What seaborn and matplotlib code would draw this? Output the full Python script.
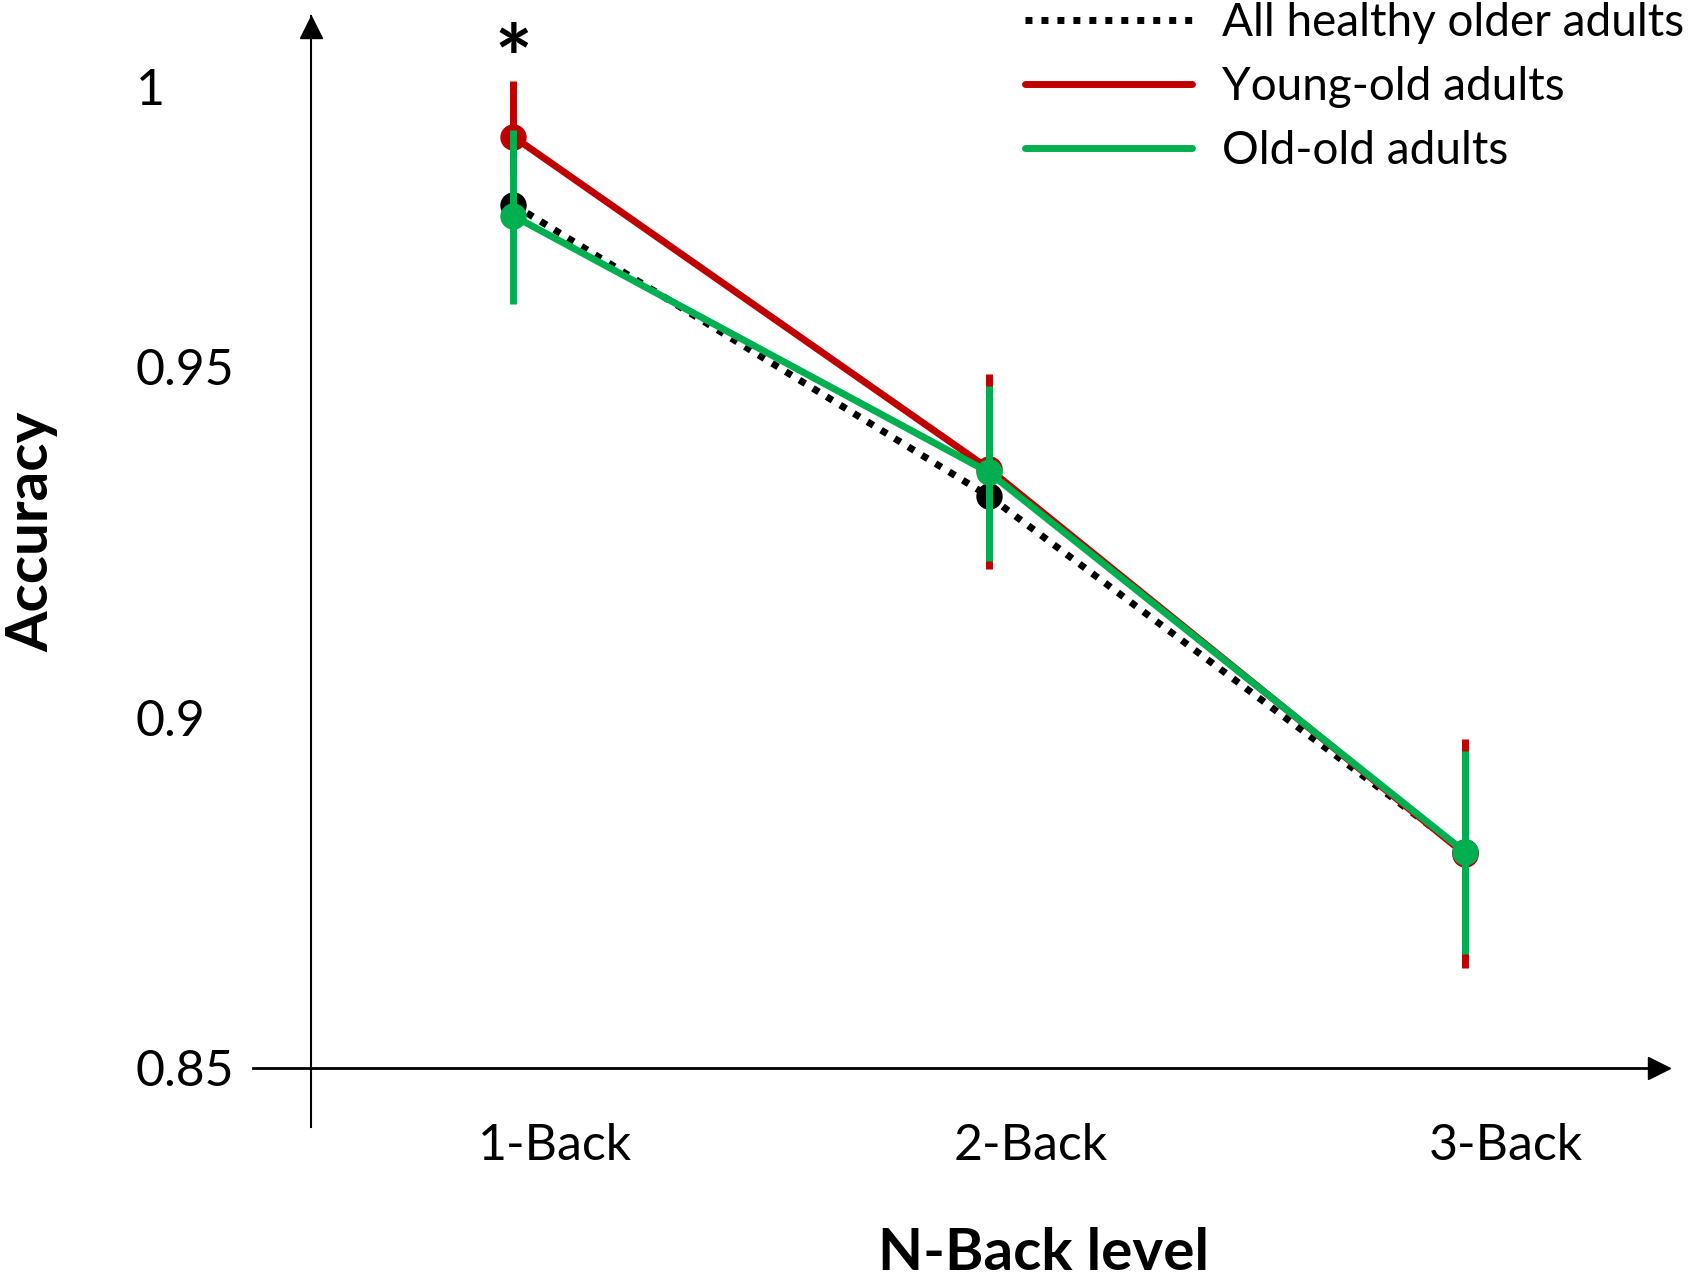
import numpy as np
import matplotlib
matplotlib.use("Agg")
import matplotlib.pyplot as plt
import matplotlib.transforms as mtransforms
from matplotlib.lines import Line2D
import seaborn as sns

# data
levels = ["1-Back", "2-Back", "3-Back"]

all_acc = [0.9731, 0.9315, 0.8808]

young_acc = [0.9828, 0.9354, 0.8805]
young_lo = [0.9772, 0.9212, 0.8642]
young_hi = [0.9908, 0.9489, 0.8969]

old_acc = [0.9715, 0.9349, 0.8808]
old_lo = [0.9589, 0.9223, 0.8662]
old_hi = [0.9838, 0.9472, 0.8951]

group_names = ["All healthy older adults", "Young-old adults", "Old-old adults"]
ytick_vals = [0.85, 0.9, 0.95, 0.99]
ytick_labels = ["0.85", "0.9", "0.95", "1"]

red = "#C00000"
green = "#00B050"
dots = (0, (1, 1.3))

sns.set_style("white")
plt.rcParams["font.family"] = ["Lato", "DejaVu Sans"]
for key in ["text.color", "axes.labelcolor", "xtick.color", "ytick.color"]:
    plt.rcParams[key] = "black"

fig = plt.figure(figsize=(16.91, 12.79), dpi=100)
ax = fig.add_axes([0.1499, 0.1189, 0.8355, 0.8685])

lw = 5
ms = 19
elw = 5
x = np.arange(len(levels))

sns.pointplot(x=levels, y=all_acc, color="black", linestyle=dots, linewidth=lw,
              markersize=ms, markeredgewidth=0, errorbar=None, ax=ax)

ax.errorbar(x, young_acc,
            yerr=[np.subtract(young_acc, young_lo), np.subtract(young_hi, young_acc)],
            fmt="none", ecolor=red, elinewidth=elw, capsize=0)
sns.pointplot(x=levels, y=young_acc, color=red, linewidth=lw,
              markersize=ms, markeredgewidth=0, errorbar=None, ax=ax)

ax.errorbar(x, old_acc,
            yerr=[np.subtract(old_acc, old_lo), np.subtract(old_hi, old_acc)],
            fmt="none", ecolor=green, elinewidth=elw, capsize=0)
sns.pointplot(x=levels, y=old_acc, color=green, linewidth=lw,
              markersize=ms, markeredgewidth=0, errorbar=None, ax=ax)

ax.set_xlim(-0.5465, 2.424)
ax.set_ylim(0.84154, 1.0)

# axes drawn as arrows crossing each other
ax.spines["top"].set_visible(False)
ax.spines["right"].set_visible(False)
ax.spines["left"].set_position(("data", -0.4263))
ax.spines["bottom"].set_position(("data", 0.85))
ax.spines["left"].set_linewidth(1.5)
ax.spines["bottom"].set_linewidth(2)
ax.spines["left"].set_color("black")
ax.spines["bottom"].set_color("black")
ax.plot(0.995, 0.85, ">", color="black", markersize=16, transform=ax.get_yaxis_transform(), clip_on=False)
ax.plot(-0.4263, 0.99, "^", color="black", markersize=16, transform=ax.get_xaxis_transform(), clip_on=False)

ax.set_yticks(ytick_vals, ytick_labels)
ax.tick_params(axis="y", length=0, pad=126, labelsize=36)
for lbl in ax.get_yticklabels():
    lbl.set_ha("left")
ax.tick_params(axis="x", length=0, pad=40, labelsize=36)
shift = mtransforms.ScaledTranslation(30 / 72, 0, fig.dpi_scale_trans)
for lbl in ax.get_xticklabels():
    lbl.set_transform(lbl.get_transform() + shift)

ax.set_xlabel("N-Back level", fontsize=42, fontweight="bold")
ax.set_ylabel("Accuracy", fontsize=42, fontweight="bold")
ax.xaxis.label.set_va("center")
ax.yaxis.label.set_va("center")
ax.xaxis.set_label_coords(0.5595, -0.1136)
ax.yaxis.set_label_coords(-0.157, 0.536)

ax.text(0, 0.9893, "*", ha="center", va="baseline", fontsize=64, fontweight="bold")

handles = [
    Line2D([], [], color="black", linestyle=dots, linewidth=lw),
    Line2D([], [], color=red, linewidth=lw),
    Line2D([], [], color=green, linewidth=lw),
]
ax.legend(handles, group_names, loc="upper left", bbox_to_anchor=(1002 / 1691, 1.016),
          bbox_transform=fig.transFigure, frameon=False, borderpad=0, fontsize=33,
          handlelength=3.65, handletextpad=0.66, labelspacing=0.48)

fig.savefig("out.png", dpi=100)
